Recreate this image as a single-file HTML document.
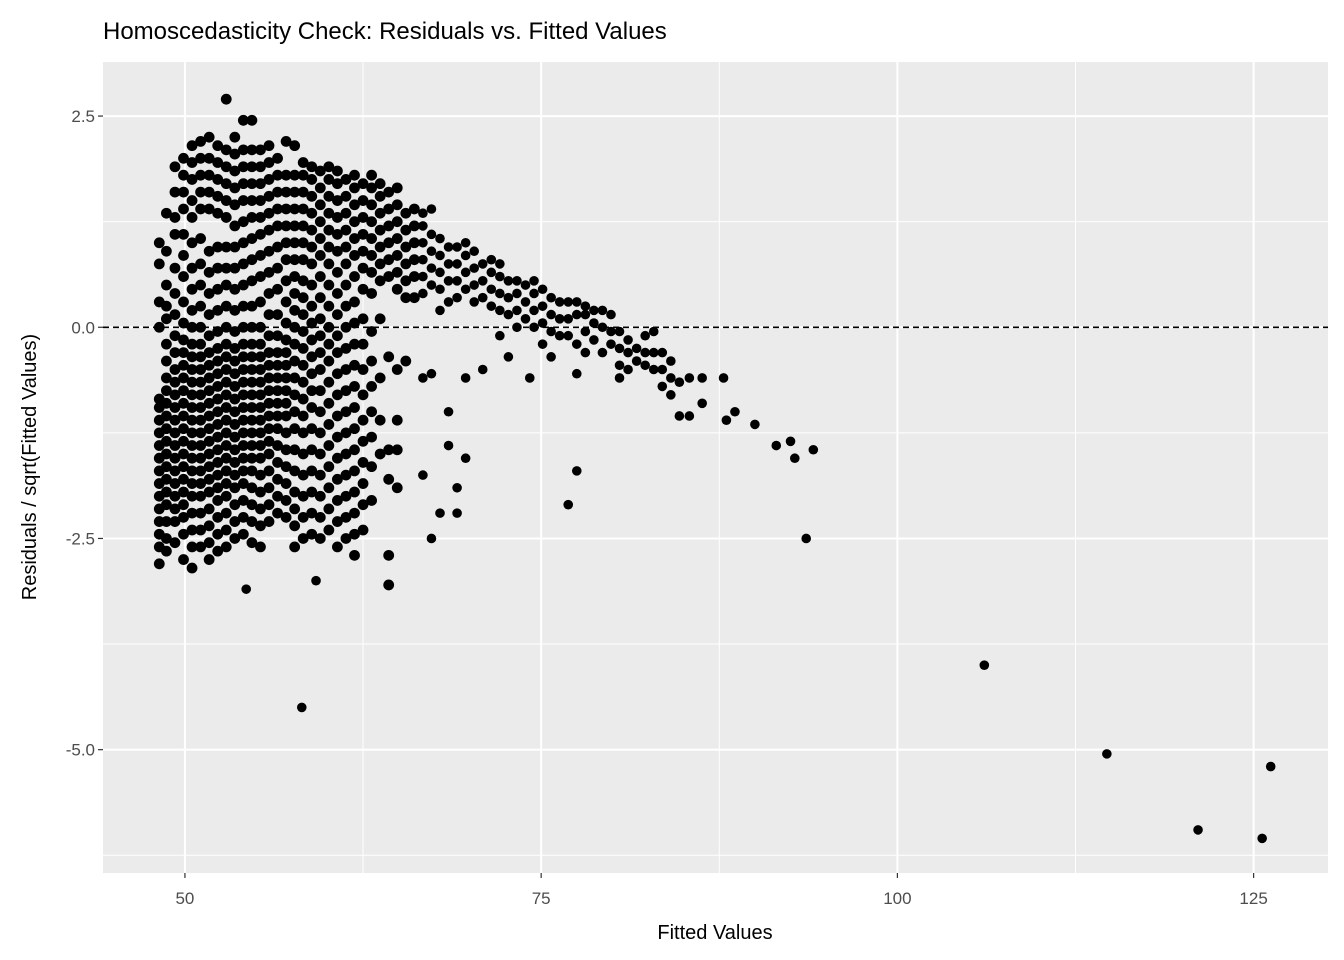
<!DOCTYPE html>
<html><head><meta charset="utf-8"><style>
body{margin:0;background:#fff;}
svg{display:block;font-family:"Liberation Sans",Arial,sans-serif;}
</style></head><body>
<svg id="chart" width="1344" height="960">
<text x="103" y="39" font-size="24" fill="#000">Homoscedasticity Check: Residuals vs. Fitted Values</text>
<rect x="103" y="62" width="1225" height="811" fill="#ebebeb"/>
<g id="grid"></g>
<g id="pts"></g>
<g id="axes"></g>
<text x="715" y="939" font-size="20" text-anchor="middle" fill="#000">Fitted Values</text>
<text transform="translate(36,467) rotate(-90)" font-size="20" text-anchor="middle" fill="#000">Residuals / sqrt(Fitted Values)</text>
</svg>
<script>
const xTicks=[50,75,100,125];
const xMinor=[62.5,87.5,112.5];
const yTicks=[2.5,0,-2.5,-5];
const yTickLabels=["2.5","0.0","-2.5","-5.0"];
const yMinor=[3.75,1.25,-1.25,-3.75,-6.25];
const colX=[48.2,48.7,49.3,49.9,50.5,51.1,51.7,52.3,52.9,53.5,54.1,54.7,55.3,55.9,56.5,57.1,57.7,58.3,58.9,59.5,60.1,60.7,61.3,61.9,62.5,63.1,63.7,64.3,64.9,65.5,66.1];
const colY=[
[-2.8,-2.6,-2.45,-2.3,-2.15,-2,-1.85,-1.7,-1.55,-1.4,-1.25,-1.1,-0.95,-0.85,0,0.3,0.75,1],
[-2.65,-2.5,-2.3,-2.1,-1.95,-1.8,-1.65,-1.5,-1.35,-1.2,-1.05,-0.9,-0.75,-0.6,-0.4,-0.2,0.1,0.25,0.5,0.9,1.35],
[-2.55,-2.3,-2.15,-2,-1.85,-1.7,-1.55,-1.4,-1.25,-1.1,-0.95,-0.8,-0.65,-0.5,-0.3,-0.1,0.15,0.4,0.7,1.1,1.3,1.6,1.9],
[-2.75,-2.45,-2.25,-2.1,-1.95,-1.8,-1.65,-1.5,-1.35,-1.2,-1.05,-0.9,-0.75,-0.6,-0.45,-0.3,-0.15,0.05,0.3,0.6,0.85,1.1,1.4,1.6,1.8,2],
[-2.85,-2.6,-2.4,-2.2,-2,-1.85,-1.7,-1.55,-1.4,-1.25,-1.1,-0.95,-0.8,-0.65,-0.5,-0.35,-0.2,0,0.2,0.45,0.7,1,1.3,1.5,1.75,1.95,2.15],
[-2.6,-2.4,-2.2,-2,-1.85,-1.7,-1.55,-1.4,-1.25,-1.1,-0.95,-0.8,-0.65,-0.5,-0.35,-0.2,0,0.25,0.5,0.75,1.05,1.4,1.6,1.8,2,2.2],
[-2.75,-2.55,-2.35,-2.15,-1.95,-1.8,-1.65,-1.5,-1.35,-1.2,-1.05,-0.9,-0.75,-0.6,-0.45,-0.3,-0.1,0.15,0.4,0.65,0.9,1.4,1.6,1.8,2,2.25],
[-2.65,-2.45,-2.25,-2.05,-1.9,-1.75,-1.6,-1.45,-1.3,-1.15,-1,-0.85,-0.7,-0.55,-0.4,-0.25,-0.05,0.2,0.45,0.7,0.95,1.35,1.55,1.75,1.95,2.15],
[-2.6,-2.4,-2.2,-2,-1.85,-1.7,-1.55,-1.4,-1.25,-1.1,-0.95,-0.8,-0.65,-0.5,-0.35,-0.2,0,0.25,0.5,0.7,0.95,1.3,1.5,1.7,1.9,2.1,2.7],
[-2.5,-2.3,-2.1,-1.9,-1.75,-1.6,-1.45,-1.3,-1.15,-1,-0.85,-0.7,-0.55,-0.4,-0.25,-0.05,0.2,0.45,0.7,0.95,1.2,1.45,1.65,1.85,2.05,2.25],
[-2.45,-2.25,-2.05,-1.85,-1.7,-1.55,-1.4,-1.25,-1.1,-0.95,-0.8,-0.65,-0.5,-0.35,-0.2,0,0.25,0.5,0.75,1,1.25,1.5,1.7,1.9,2.1,2.45],
[-2.55,-2.3,-2.1,-1.9,-1.7,-1.55,-1.4,-1.25,-1.1,-0.95,-0.8,-0.65,-0.5,-0.35,-0.2,0,0.25,0.55,0.8,1.05,1.3,1.5,1.7,1.9,2.1,2.45],
[-2.6,-2.35,-2.15,-1.95,-1.75,-1.55,-1.4,-1.25,-1.1,-0.95,-0.8,-0.65,-0.5,-0.35,-0.2,0,0.3,0.6,0.85,1.1,1.3,1.5,1.7,1.9,2.1],
[-2.3,-2.1,-1.9,-1.7,-1.5,-1.35,-1.2,-1.05,-0.9,-0.75,-0.6,-0.45,-0.3,-0.1,0.15,0.4,0.65,0.9,1.15,1.35,1.55,1.75,1.95,2.15],
[-2.2,-2,-1.8,-1.6,-1.4,-1.2,-1.05,-0.9,-0.75,-0.6,-0.45,-0.3,-0.1,0.15,0.45,0.7,0.95,1.2,1.4,1.6,1.8,2],
[-2.25,-2.05,-1.85,-1.65,-1.45,-1.25,-1.05,-0.9,-0.75,-0.6,-0.45,-0.3,-0.15,0.05,0.3,0.55,0.8,1,1.2,1.4,1.6,1.8,2.2],
[-2.6,-2.35,-2.15,-1.95,-1.7,-1.45,-1.2,-1,-0.8,-0.6,-0.4,-0.2,0,0.2,0.4,0.6,0.8,1,1.2,1.4,1.6,1.8,2.15],
[-2.5,-2.25,-2,-1.75,-1.5,-1.25,-1.05,-0.85,-0.65,-0.45,-0.25,-0.05,0.15,0.35,0.55,0.8,1,1.2,1.4,1.6,1.8,1.95],
[-2.45,-2.2,-1.95,-1.7,-1.45,-1.2,-0.95,-0.75,-0.55,-0.35,-0.15,0.05,0.25,0.5,0.75,0.95,1.15,1.35,1.55,1.75,1.9],
[-2.5,-2.25,-2,-1.75,-1.5,-1.25,-1,-0.75,-0.5,-0.3,-0.1,0.1,0.35,0.6,0.85,1.05,1.25,1.45,1.65,1.85],
[-2.4,-2.15,-1.9,-1.65,-1.4,-1.15,-0.9,-0.65,-0.4,-0.2,0,0.25,0.5,0.75,0.95,1.15,1.35,1.55,1.75,1.9],
[-2.6,-2.3,-2.05,-1.8,-1.55,-1.3,-1.05,-0.8,-0.55,-0.3,-0.1,0.15,0.4,0.65,0.9,1.1,1.3,1.5,1.7,1.85],
[-2.5,-2.25,-2,-1.75,-1.5,-1.25,-1,-0.75,-0.5,-0.25,0,0.25,0.5,0.75,0.95,1.15,1.35,1.55,1.75],
[-2.7,-2.45,-2.2,-1.95,-1.7,-1.45,-1.2,-0.95,-0.7,-0.45,-0.2,0.05,0.3,0.6,0.85,1.05,1.25,1.45,1.65,1.8],
[-2.4,-2.1,-1.85,-1.6,-1.35,-1.1,-0.8,-0.5,-0.2,0.1,0.45,0.7,0.9,1.1,1.3,1.5,1.7],
[-2.05,-1.65,-1.3,-1,-0.7,-0.4,-0.05,0.4,0.65,0.85,1.05,1.25,1.45,1.65,1.8],
[-1.5,-1.1,-0.6,0.1,0.55,0.75,0.95,1.15,1.35,1.55,1.7],
[-3.05,-2.7,-1.8,-1.45,-0.35,0.6,0.8,1,1.2,1.4,1.6],
[-1.9,-1.45,-1.1,-0.5,0.45,0.65,0.85,1.05,1.25,1.45,1.65],
[-0.4,0.35,0.55,0.75,0.95,1.15,1.35],
[0.35,0.6,0.8,1,1.2,1.4]
];
const tailX=[
66.7,66.7,66.7,66.7,66.7,66.7,66.7,66.7,
67.3,67.3,67.3,67.3,67.3,67.3,67.3,
67.9,67.9,67.9,67.9,67.9,67.9,
68.5,68.5,68.5,68.5,68.5,68.5,
69.1,69.1,69.1,69.1,69.1,69.1,
69.7,69.7,69.7,69.7,69.7,69.7,
70.3,70.3,70.3,70.3,
70.9,70.9,70.9,70.9,
71.5,71.5,71.5,71.5,
72.1,72.1,72.1,72.1,72.1,
72.7,72.7,72.7,72.7,
73.3,73.3,73.3,73.3,
73.9,73.9,73.9,74.2,
74.5,74.5,74.5,74.5,
75.1,75.1,75.1,75.1,
75.7,75.7,75.7,75.7,
76.3,76.3,76.3,
76.9,76.9,76.9,76.9,
77.5,77.5,77.5,77.5,77.5,
78.1,78.1,78.1,78.1,
78.7,78.7,78.7,
79.3,79.3,79.3,
79.9,79.9,79.9,
80.5,80.5,80.5,80.5,
81.1,81.1,81.1,
81.7,81.7,
82.3,82.3,82.3,
82.9,82.9,82.9,
83.5,83.5,83.5,
84.1,84.1,84.1,
84.7,84.7,
85.4,85.4,
86.3,86.3,
87.8,88,88.6,90,91.5,92.5,92.8,93.6,94.1,
106.1,114.7,121.1,125.6,126.2,
54.3,58.2,59.2
];
const tailY=[
-1.75,-0.6,0.4,0.6,0.8,1,1.2,1.35,
-2.5,-0.55,0.5,0.7,0.9,1.1,1.4,
-2.2,0.2,0.45,0.65,0.85,1.05,
-1.4,-1,0.3,0.55,0.75,0.95,
-1.9,-2.2,0.35,0.55,0.75,0.95,
-1.55,-0.6,0.45,0.65,0.85,1,
0.3,0.5,0.7,0.9,
-0.5,0.35,0.55,0.75,
0.25,0.45,0.65,0.8,
-0.1,0.2,0.4,0.6,0.75,
-0.35,0.15,0.35,0.55,
0,0.2,0.4,0.55,
0.1,0.3,0.5,-0.6,
0,0.2,0.4,0.55,
-0.2,0.05,0.25,0.45,
-0.35,-0.05,0.15,0.35,
-0.1,0.1,0.3,
-2.1,-0.1,0.1,0.3,
-1.7,-0.55,-0.2,0.15,0.3,
-0.3,-0.05,0.15,0.25,
-0.15,0.05,0.2,
-0.3,0,0.2,
-0.2,-0.05,0.15,
-0.6,-0.45,-0.25,-0.05,
-0.5,-0.3,-0.15,
-0.4,-0.25,
-0.45,-0.3,-0.1,
-0.5,-0.3,-0.05,
-0.7,-0.5,-0.3,
-0.8,-0.6,-0.4,
-1.05,-0.65,
-1.05,-0.6,
-0.9,-0.6,
-0.6,-1.1,-1,-1.15,-1.4,-1.35,-1.55,-2.5,-1.45,
-4,-5.05,-5.95,-6.05,-5.2,
-3.1,-4.5,-3
];
const NS='http://www.w3.org/2000/svg';
const L=103,R=1328,T=62,B=873;
const X0=44.25,X1=130.22,Y0=-6.46,Y1=3.14;
function sx(v){return L+(v-X0)/(X1-X0)*(R-L);}
function sy(v){return B-(v-Y0)/(Y1-Y0)*(B-T);}
function mk(tag,attrs,parent){const e=document.createElementNS(NS,tag);for(const k in attrs)e.setAttribute(k,attrs[k]);parent.appendChild(e);return e;}
const grid=document.getElementById('grid'),pts=document.getElementById('pts'),axes=document.getElementById('axes');
xMinor.forEach(v=>{const e=mk('line',{x1:sx(v),x2:sx(v),y1:T,y2:B,stroke:'#fff','stroke-width':1},grid);

});
yMinor.forEach(v=>{const e=mk('line',{x1:L,x2:R,y1:sy(v),y2:sy(v),stroke:'#fff','stroke-width':1},grid);

});
xTicks.forEach(v=>{const e=mk('line',{x1:sx(v),x2:sx(v),y1:T,y2:B,stroke:'#fff','stroke-width':2},grid);


const t=mk('line',{x1:sx(v),x2:sx(v),y1:B,y2:B+5,stroke:'#333','stroke-width':1.2},axes);


const lb=mk('text',{x:sx(v),y:B+31,'font-size':17,'text-anchor':'middle',fill:'#4d4d4d'},axes);lb.textContent=v;

});
yTicks.forEach((v,i)=>{const e=mk('line',{x1:L,x2:R,y1:sy(v),y2:sy(v),stroke:'#fff','stroke-width':2},grid);


const t=mk('line',{x1:L-5,x2:L,y1:sy(v),y2:sy(v),stroke:'#333','stroke-width':1.2},axes);


const lb=mk('text',{x:L-8,y:sy(v)+6,'font-size':17,'text-anchor':'end',fill:'#4d4d4d'},axes);lb.textContent=yTickLabels[i];

});
colX.forEach((x,i)=>{(colY[i]||[]).forEach(y=>{const c=mk('circle',{cx:sx(x),cy:sy(y),r:5.4,fill:'#000'},pts);

});});
tailX.forEach((x,i)=>{if(tailY[i]===undefined)return;const c=mk('circle',{cx:sx(x),cy:sy(tailY[i]),r:4.8,fill:'#000'},pts);

});
const z=mk('line',{x1:L,x2:R,y1:sy(0),y2:sy(0),stroke:'#000','stroke-width':1.6,'stroke-dasharray':'6,4'},axes);


</script>
</body></html>
